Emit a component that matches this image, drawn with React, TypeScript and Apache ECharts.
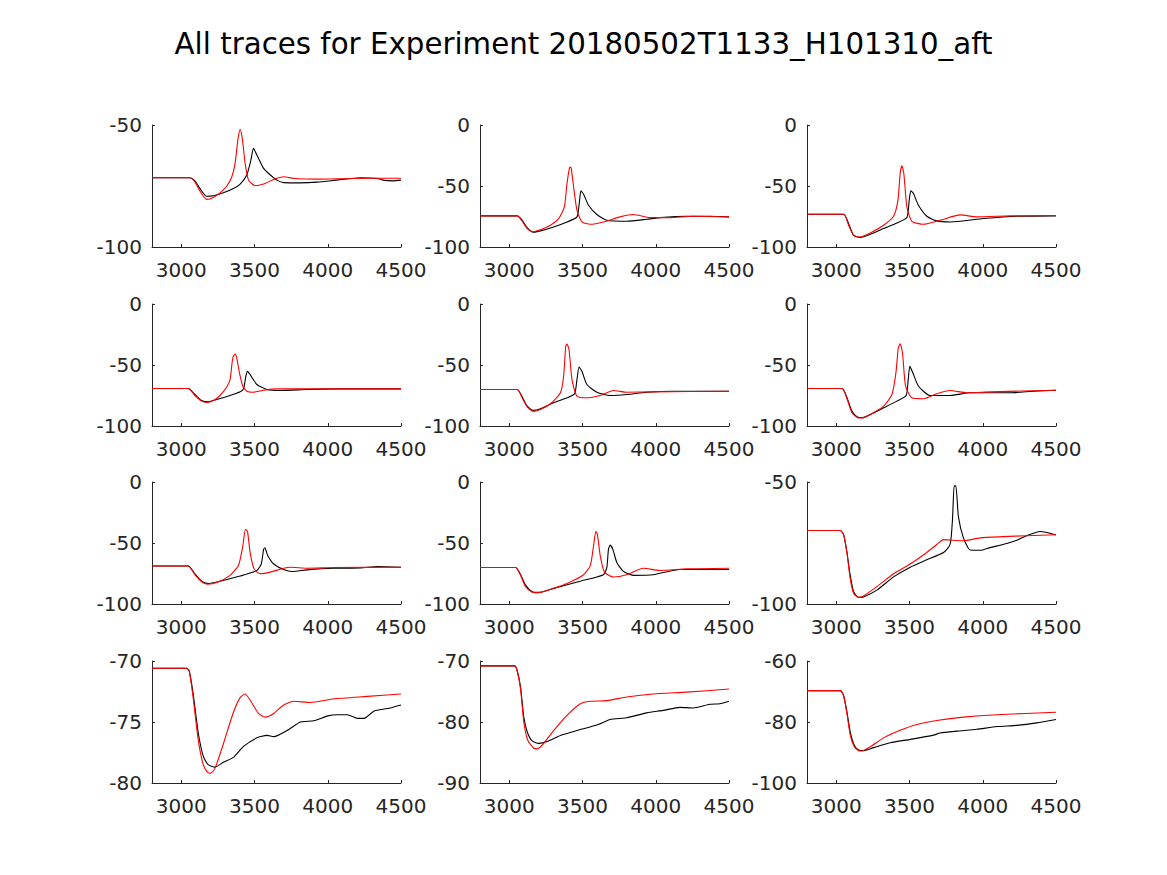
import React, { useEffect, useRef } from "react";
import * as echarts from "echarts";

const TITLE = "All traces for Experiment 20180502T1133_H101310_aft";
const X_MIN = 2800;
const X_MAX = 4500;
const X_TICKS = [3000, 3500, 4000, 4500];

// y ranges per panel: [min, max, interval]
const Y_RANGES = [
  [-100, -50, 50], [-100, 0, 50], [-100, 0, 50],
  [-100, 0, 50], [-100, 0, 50], [-100, 0, 50],
  [-100, 0, 50], [-100, 0, 50], [-100, -50, 50],
  [-80, -70, 5], [-90, -70, 10], [-100, -60, 20],
];

const p1Black = [[2800,-71.6],[3058,-71.6],[3093,-72.9],[3127,-76.0],[3173,-79.2],[3219,-79.0],[3287,-77.8],[3356,-76.0],[3402,-74.2],[3447,-70.5],[3475,-64.4],[3493,-59.6],[3516,-62.3],[3562,-67.8],[3608,-70.5],[3653,-72.6],[3699,-73.6],[3814,-73.7],[3928,-73.4],[4042,-72.7],[4180,-71.8],[4225,-71.6],[4340,-71.9],[4386,-72.7],[4443,-72.9],[4500,-72.6]];
const p1Red = [[2800,-71.6],[3058,-71.6],[3093,-73.3],[3127,-77.0],[3173,-80.5],[3219,-79.7],[3264,-77.8],[3310,-75.1],[3345,-71.2],[3367,-65.8],[3386,-56.2],[3402,-51.8],[3418,-56.2],[3436,-65.8],[3459,-72.6],[3505,-74.9],[3562,-74.2],[3631,-72.3],[3699,-71.2],[3768,-71.9],[3928,-72.2],[4157,-71.9],[4500,-71.8]];

const p2Black = [[2800,-74.5],[3054,-74.5],[3088,-78.1],[3122,-84.1],[3163,-87.9],[3213,-86.8],[3303,-83.6],[3394,-79.5],[3462,-75.3],[3480,-61.6],[3489,-54.0],[3507,-56.7],[3541,-65.8],[3598,-73.4],[3666,-78.1],[3802,-78.9],[3938,-77.3],[4029,-75.9],[4210,-74.8],[4369,-74.8],[4500,-75.3]];
const p2Red = [[2800,-74.5],[3054,-74.5],[3088,-78.9],[3122,-84.9],[3156,-87.4],[3213,-85.8],[3281,-82.2],[3337,-76.7],[3376,-67.1],[3394,-47.9],[3410,-35.6],[3416,-34.5],[3423,-35.6],[3439,-50.7],[3462,-69.9],[3496,-79.5],[3553,-81.4],[3643,-79.5],[3757,-75.3],[3847,-73.4],[3961,-75.9],[4097,-75.9],[4255,-74.8],[4500,-75.3]];

const p3Black = [[2800,-73.2],[3050,-73.2],[3084,-80.8],[3118,-90.4],[3164,-92.1],[3232,-89.6],[3323,-84.9],[3414,-80.3],[3482,-75.9],[3498,-61.6],[3509,-54.0],[3527,-56.2],[3561,-65.8],[3618,-74.8],[3686,-78.6],[3777,-79.5],[4005,-76.7],[4232,-74.8],[4500,-74.5]];
const p3Red = [[2800,-73.2],[3050,-73.2],[3084,-82.2],[3118,-90.4],[3159,-91.8],[3232,-88.5],[3323,-82.2],[3391,-74.8],[3421,-61.6],[3436,-39.7],[3448,-33.4],[3461,-39.7],[3482,-67.1],[3516,-78.9],[3596,-81.4],[3709,-78.1],[3846,-73.7],[3959,-75.3],[4187,-74.5],[4500,-74.2]];

const p4Black = [[2800,-69.3],[3047,-69.3],[3093,-74.2],[3139,-79.1],[3184,-80.2],[3242,-78.3],[3333,-75.0],[3402,-72.0],[3425,-69.6],[3441,-59.2],[3452,-55.2],[3470,-57.9],[3516,-66.0],[3585,-70.1],[3676,-70.9],[3859,-70.1],[4042,-69.6],[4500,-69.6]];
const p4Red = [[2800,-69.3],[3047,-69.3],[3093,-75.0],[3139,-79.6],[3173,-80.7],[3219,-79.1],[3264,-75.0],[3310,-68.0],[3333,-62.0],[3351,-44.5],[3367,-41.0],[3379,-44.3],[3397,-56.5],[3420,-67.4],[3447,-71.5],[3493,-72.3],[3562,-70.7],[3653,-69.6],[4500,-69.6]];

const p5Black = [[2800,-70.1],[3054,-70.1],[3088,-76.1],[3122,-83.7],[3163,-87.2],[3213,-85.9],[3303,-81.0],[3394,-76.9],[3446,-73.6],[3462,-62.0],[3476,-51.6],[3496,-55.2],[3530,-66.0],[3598,-72.3],[3689,-75.0],[3802,-74.2],[3938,-72.3],[4119,-71.5],[4500,-71.5]];
const p5Red = [[2800,-70.1],[3054,-70.1],[3088,-76.9],[3122,-84.2],[3163,-88.0],[3213,-86.4],[3281,-81.8],[3349,-72.8],[3371,-59.2],[3385,-34.8],[3394,-32.9],[3408,-37.5],[3428,-62.0],[3462,-75.5],[3530,-76.9],[3621,-75.0],[3711,-70.9],[3802,-72.3],[3983,-72.0],[4500,-71.5]];

const p6Black = [[2800,-69.3],[3039,-69.3],[3073,-76.9],[3107,-87.8],[3141,-92.4],[3175,-93.2],[3232,-90.5],[3323,-85.1],[3414,-79.6],[3477,-75.0],[3491,-62.0],[3502,-51.1],[3523,-56.5],[3561,-67.4],[3641,-75.0],[3777,-75.0],[3914,-72.8],[4187,-72.8],[4346,-71.5],[4500,-70.7]];
const p6Red = [[2800,-69.3],[3039,-69.3],[3073,-77.7],[3107,-89.1],[3145,-93.2],[3175,-93.5],[3232,-90.5],[3323,-83.7],[3380,-74.2],[3407,-56.5],[3423,-36.1],[3436,-32.6],[3452,-40.2],[3473,-67.4],[3516,-76.9],[3596,-77.7],[3686,-73.6],[3777,-70.9],[3891,-72.8],[4050,-72.0],[4500,-70.7]];

const p7Black = [[2800,-68.8],[3047,-68.8],[3093,-75.2],[3139,-81.3],[3184,-83.2],[3264,-81.3],[3402,-77.1],[3516,-72.5],[3546,-67.2],[3562,-55.2],[3571,-53.9],[3589,-60.0],[3631,-67.2],[3699,-71.7],[3756,-73.3],[3859,-72.0],[4042,-70.7],[4225,-70.4],[4340,-69.3],[4500,-69.9]];
const p7Red = [[2800,-68.8],[3047,-68.8],[3093,-76.0],[3139,-81.9],[3178,-83.7],[3242,-82.4],[3333,-76.5],[3390,-68.5],[3420,-52.5],[3438,-38.7],[3452,-40.5],[3470,-57.9],[3497,-71.2],[3539,-75.2],[3608,-73.9],[3699,-70.7],[3745,-69.9],[3859,-70.7],[4042,-70.1],[4500,-69.9]];

const p8Black = [[2800,-70.1],[3043,-70.1],[3077,-76.0],[3111,-84.5],[3156,-89.9],[3201,-90.4],[3303,-87.2],[3485,-81.3],[3643,-76.0],[3666,-69.9],[3677,-55.2],[3689,-51.7],[3707,-55.2],[3734,-65.9],[3779,-73.3],[3847,-76.5],[3983,-76.0],[4165,-71.7],[4500,-71.7]];
const p8Red = [[2800,-70.1],[3043,-70.1],[3077,-76.5],[3111,-85.9],[3156,-90.4],[3190,-90.9],[3303,-87.2],[3417,-81.9],[3507,-76.0],[3553,-68.5],[3575,-52.5],[3591,-40.5],[3602,-43.2],[3621,-60.5],[3650,-73.9],[3711,-77.9],[3802,-76.0],[3915,-70.7],[4029,-72.5],[4210,-71.2],[4500,-70.7]];

const p9Black = [[2800,-69.9],[3027,-69.9],[3050,-71.6],[3073,-78.9],[3095,-88.3],[3118,-94.9],[3152,-97.3],[3186,-97.1],[3277,-94.3],[3391,-88.9],[3505,-84.9],[3618,-81.9],[3732,-78.9],[3777,-75.6],[3793,-65.6],[3805,-51.6],[3816,-51.6],[3834,-64.3],[3868,-72.9],[3914,-77.9],[3982,-78.0],[4050,-76.9],[4164,-75.2],[4232,-73.9],[4300,-72.0],[4391,-70.3],[4436,-70.7],[4500,-71.7]];
const p9Red = [[2800,-69.9],[3027,-69.9],[3050,-71.6],[3073,-79.2],[3095,-89.6],[3118,-95.6],[3152,-97.3],[3186,-96.7],[3277,-92.9],[3391,-87.6],[3505,-83.6],[3618,-78.9],[3686,-75.6],[3732,-73.6],[3800,-73.9],[3868,-74.1],[3982,-72.9],[4141,-72.4],[4300,-72.0],[4500,-71.6]];

const p10Black = [[2800,-70.6],[3036,-70.6],[3054,-70.8],[3081,-72.7],[3116,-75.9],[3150,-77.8],[3184,-78.5],[3230,-78.7],[3287,-78.3],[3356,-77.9],[3425,-77.0],[3516,-76.3],[3585,-76.1],[3631,-76.2],[3722,-75.7],[3814,-75.0],[3905,-74.9],[4000,-74.5],[4065,-74.4],[4134,-74.4],[4203,-74.7],[4248,-74.7],[4317,-74.1],[4408,-73.9],[4500,-73.6]];
const p10Red = [[2800,-70.6],[3036,-70.6],[3054,-70.8],[3081,-73.0],[3116,-76.5],[3150,-78.5],[3178,-79.1],[3200,-79.2],[3230,-78.8],[3287,-76.8],[3356,-74.2],[3402,-73.0],[3436,-72.7],[3470,-73.2],[3527,-74.3],[3573,-74.6],[3631,-74.3],[3699,-73.6],[3768,-73.3],[3882,-73.4],[4042,-73.1],[4271,-72.9],[4500,-72.7]];

const p11Black = [[2800,-70.8],[3036,-70.8],[3054,-71.6],[3077,-74.3],[3099,-79.2],[3122,-81.6],[3156,-83.1],[3201,-83.5],[3258,-83.2],[3349,-82.2],[3462,-81.4],[3598,-80.5],[3689,-79.6],[3802,-79.3],[3938,-78.5],[4051,-78.1],[4165,-77.6],[4255,-77.7],[4369,-77.1],[4437,-77.0],[4500,-76.6]];
const p11Red = [[2800,-70.8],[3036,-70.8],[3054,-71.6],[3077,-74.6],[3099,-80.0],[3126,-83.0],[3167,-84.3],[3190,-84.4],[3224,-83.8],[3303,-81.4],[3394,-78.9],[3485,-77.0],[3553,-76.6],[3666,-76.5],[3802,-75.9],[3983,-75.4],[4210,-75.1],[4500,-74.6]];

const p12Black = [[2800,-69.7],[3027,-69.7],[3050,-71.4],[3073,-76.8],[3095,-83.2],[3123,-87.6],[3152,-89.2],[3186,-89.4],[3255,-88.4],[3368,-86.8],[3505,-85.7],[3664,-84.3],[3709,-83.6],[3823,-83.0],[3959,-82.4],[4096,-81.5],[4232,-81.1],[4368,-80.3],[4500,-79.2]];
const p12Red = [[2800,-69.7],[3027,-69.7],[3050,-71.4],[3073,-77.3],[3095,-84.3],[3123,-88.1],[3152,-89.4],[3175,-89.5],[3232,-88.1],[3323,-85.2],[3436,-82.7],[3550,-80.8],[3686,-79.5],[3868,-78.4],[4096,-77.6],[4500,-76.8]];

const BLACK_TRACES = [p1Black, p2Black, p3Black, p4Black, p5Black, p6Black, p7Black, p8Black, p9Black, p10Black, p11Black, p12Black];
const RED_TRACES = [p1Red, p2Red, p3Red, p4Red, p5Red, p6Red, p7Red, p8Red, p9Red, p10Red, p11Red, p12Red];

const COL_LEFT = [152, 480, 807];
const ROW_TOP = [125, 304, 482, 661];
const GRID_W = 249;
const GRID_H = 122;
const FONT = "DejaVu Sans";
const AXIS_COLOR = "#262626";

export default function App() {
  const ref = useRef<HTMLDivElement>(null);
  useEffect(() => {
    if (!ref.current) return;
    const chart = echarts.init(ref.current, undefined, { renderer: "svg" });
    const grid: any[] = [];
    const xAxis: any[] = [];
    const yAxis: any[] = [];
    const series: any[] = [];
    for (let i = 0; i < 12; i++) {
      const r = Math.floor(i / 3);
      const c = i % 3;
      grid.push({ left: COL_LEFT[c], top: ROW_TOP[r], width: GRID_W, height: GRID_H, containLabel: false });
      xAxis.push({
        type: "value",
        gridIndex: i,
        position: "bottom",
        min: X_MIN,
        max: X_MAX,
        axisLine: { show: true, onZero: false, lineStyle: { color: AXIS_COLOR, width: 1 } },
        axisTick: { show: true, inside: true, length: 3, customValues: X_TICKS, lineStyle: { color: AXIS_COLOR } },
        axisLabel: {
          customValues: X_TICKS,
          formatter: (v: number) => String(v),
          fontSize: 20,
          fontFamily: FONT,
          color: AXIS_COLOR,
          margin: 13,
        },
        splitLine: { show: false },
      });
      const [mn, mx, iv] = Y_RANGES[i];
      yAxis.push({
        type: "value",
        gridIndex: i,
        position: "left",
        min: mn,
        max: mx,
        interval: iv,
        axisLine: { show: true, onZero: false, lineStyle: { color: AXIS_COLOR, width: 1 } },
        axisTick: { show: true, inside: true, length: 3, lineStyle: { color: AXIS_COLOR } },
        axisLabel: { formatter: (v: number) => String(v), fontSize: 20, fontFamily: FONT, color: AXIS_COLOR, margin: 10 },
        splitLine: { show: false },
      });
      series.push({
        type: "line",
        xAxisIndex: i,
        yAxisIndex: i,
        data: BLACK_TRACES[i],
        showSymbol: false,
        smooth: 0.2,
        lineStyle: { color: "#000000", width: 1.1 },
        itemStyle: { color: "#000000" },
      });
      series.push({
        type: "line",
        xAxisIndex: i,
        yAxisIndex: i,
        data: RED_TRACES[i],
        showSymbol: false,
        smooth: 0.2,
        lineStyle: { color: "#ff0000", width: 1.1 },
        itemStyle: { color: "#ff0000" },
      });
    }
    chart.setOption({
      animation: false,
      backgroundColor: "#ffffff",
      title: {
        text: TITLE,
        left: "center",
        top: 24,
        textStyle: { fontSize: 29.3, fontWeight: "normal", fontFamily: FONT, color: "#000000" },
      },
      grid,
      xAxis,
      yAxis,
      series,
    });
    return () => chart.dispose();
  }, []);
  return (
    <div
      ref={ref}
      style={{ position: "fixed", left: 0, top: 0, width: 1167, height: 875, background: "#fff" }}
    />
  );
}
